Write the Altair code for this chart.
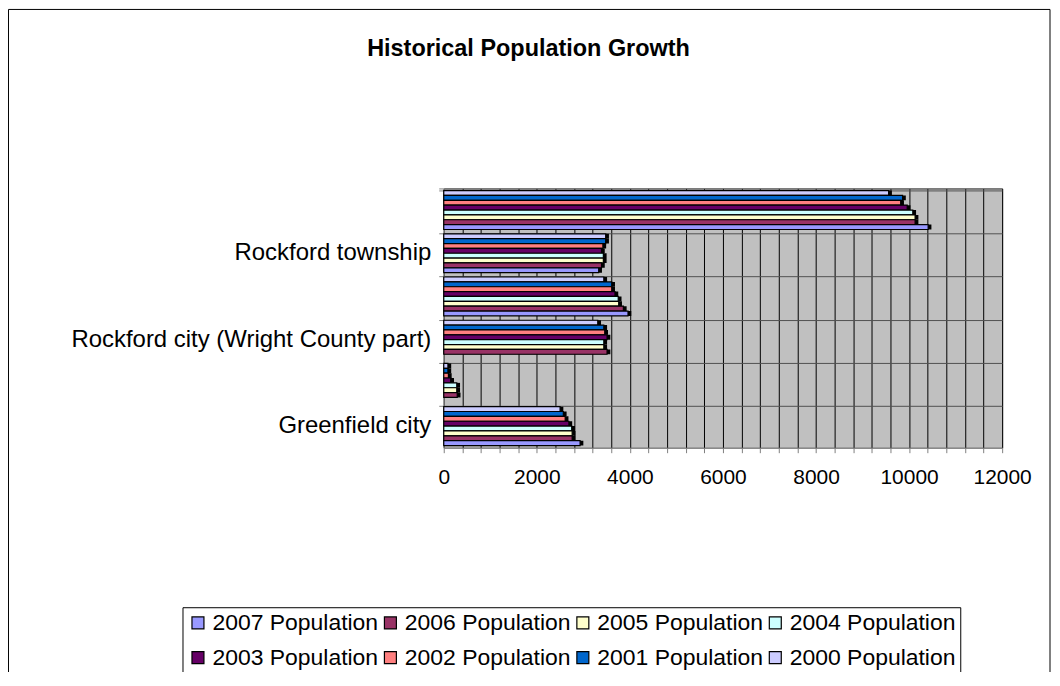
import altair as alt
import pandas as pd

# Categories, top to bottom as drawn (only every other one is labelled in the reference)
categories = [
    "Total",
    "Rockford township",
    "Rockford city",
    "Rockford city (Wright County part)",
    "Rockford city (Hennepin County part)",
    "Greenfield city",
]
shown_labels = ["Rockford township", "Rockford city (Wright County part)", "Greenfield city"]

series_names = [
    "2000 Population", "2001 Population", "2002 Population", "2003 Population",
    "2004 Population", "2005 Population", "2006 Population", "2007 Population",
]
legend_order = list(reversed(series_names))
legend_colors = ["#9999FF", "#993366", "#FFFFCC", "#CCFFFF",
                 "#660066", "#FF8080", "#0066CC", "#CCCCFF"]

# values per series, in the category order above
pop_2000 = [9560, 3480, 3440, 3310, 90, 2500]
pop_2001 = [9860, 3480, 3610, 3440, 90, 2570]
pop_2002 = [9820, 3420, 3610, 3460, 100, 2610]
pop_2003 = [9960, 3390, 3680, 3510, 150, 2690]
pop_2004 = [10080, 3430, 3750, 3440, 280, 2750]
pop_2005 = [10130, 3430, 3760, 3440, 280, 2760]
pop_2006 = [10130, 3390, 3860, 3510, 290, 2760]
pop_2007 = [10410, 3330, 3960, None, None, 2930]

all_series = [pop_2000, pop_2001, pop_2002, pop_2003, pop_2004, pop_2005, pop_2006, pop_2007]
rows = []
for name, vals in zip(series_names, all_series):
    for cat, v in zip(categories, vals):
        if v is not None:
            rows.append({"category": cat, "series": name, "value": v})
df = pd.DataFrame(rows)

FONT = "Liberation Sans"

x_axis = alt.Axis(
    title=None, values=list(range(0, 12001, 400)), format="d",
    labelExpr="datum.value % 2000 == 0 ? datum.label : ''",
    labelFlush=False, labelOverlap=False,
    grid=True, gridColor="black", gridWidth=1,
    tickSize=5, tickColor="#808080", domainColor="#808080",
    labelFont=FONT, labelFontSize=21, labelColor="black", labelPadding=14,
)
x_scale = alt.Scale(domain=[0, 12000], nice=False)

y_enc = alt.Y(
    "category:N", sort=categories,
    scale=alt.Scale(paddingInner=0.1, paddingOuter=0.05),
    axis=alt.Axis(
        title=None,
        labelExpr="indexof(%r, datum.value) >= 0 ? datum.label : ''" % shown_labels,
        labelFont=FONT, labelFontSize=24, labelColor="black", labelPadding=8,
        labelLimit=0, tickSize=5, tickColor="#808080", domainColor="#808080",
        bandPosition=0, tickExtra=True, grid=True, gridColor="#505050",
    ),
)
yoff_enc = alt.YOffset("series:N", sort=series_names,
                       scale=alt.Scale(paddingInner=0, paddingOuter=0))

base = alt.Chart(df)

shadow = base.transform_calculate(shadow="datum.value + 70").mark_bar(
    color="black"
).encode(
    x=alt.X("shadow:Q", scale=x_scale, axis=x_axis),
    y=y_enc,
    yOffset=yoff_enc,
)

bars = base.mark_bar(stroke="black", strokeWidth=1.2).encode(
    x=alt.X("value:Q", scale=x_scale, axis=x_axis),
    y=y_enc,
    yOffset=yoff_enc,
    color=alt.Color(
        "series:N",
        scale=alt.Scale(domain=legend_order, range=legend_colors),
        legend=alt.Legend(
            title=None, orient="none", legendX=-262, legendY=420,
            direction="horizontal", columns=4,
            symbolType="square", symbolSize=144,
            symbolStrokeColor="black", symbolStrokeWidth=1.2,
            labelFont=FONT, labelFontSize=23, labelColor="black",
            labelLimit=0, labelOffset=3,
            strokeColor="black", fillColor="white",
            padding=4, rowPadding=11, columnPadding=-2,
        ),
    ),
)

dummy = pd.DataFrame({"a": [0]})
frame = alt.Chart(dummy).mark_rect(filled=False, stroke="black", strokeWidth=1).encode(
    x=alt.value(-436.5), x2=alt.value(608), y=alt.value(-179.5), y2=alt.value(520)
)
title = alt.Chart(dummy).mark_text(
    text="Historical Population Growth", font=FONT, fontSize=23.5,
    fontWeight="bold", align="center", baseline="middle", color="black",
).encode(x=alt.value(85), y=alt.value(-140))

chart = alt.layer(frame, title, shadow, bars).properties(
    width=560, height=260,
    autosize=alt.AutoSizeParams(type="none"),
    padding={"left": 437, "top": 180, "right": 50, "bottom": 224},
).configure(background="white", font=FONT).configure_view(
    fill="#C0C0C0", stroke="#808080"
)

chart.save("out.html", embed_options={"renderer": "svg", "actions": False})
